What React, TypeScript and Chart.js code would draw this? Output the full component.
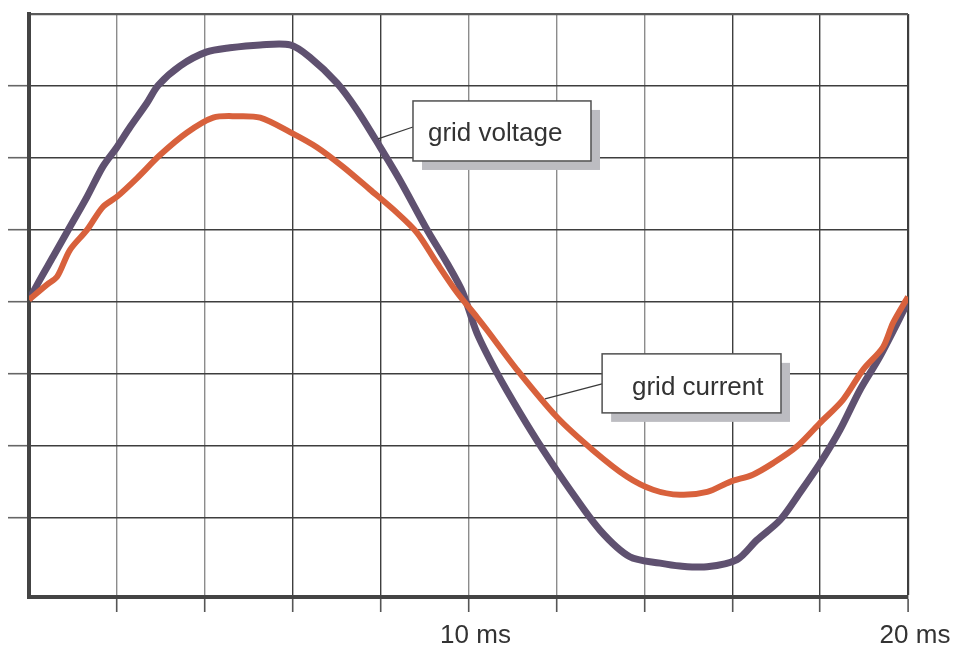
import React, { useEffect, useRef } from 'react';
import { Chart, registerables } from 'chart.js';

Chart.register(...registerables);

// time in ms, values in grid divisions
const voltageTime = [0, 0.25, 0.55, 0.93, 1.32, 1.68, 2.0, 2.3, 2.68, 2.94, 3.44, 4.03, 4.57, 5.26, 5.94, 6.39, 7.01, 7.46, 7.99, 8.44, 9.06, 9.51, 9.87, 10.19, 10.65, 11.17, 11.7, 12.31, 12.99, 13.67, 14.36, 14.81, 15.43, 16.11, 16.56, 17.09, 17.54, 18.0, 18.45, 18.91, 19.36, 20.0];
const voltageValues = [0.03, 0.31, 0.63, 1.04, 1.46, 1.88, 2.15, 2.43, 2.76, 3.01, 3.28, 3.47, 3.53, 3.57, 3.57, 3.4, 3.04, 2.67, 2.15, 1.69, 1.0, 0.54, 0.13, -0.43, -0.99, -1.54, -2.06, -2.61, -3.17, -3.54, -3.63, -3.67, -3.68, -3.58, -3.31, -3.03, -2.65, -2.24, -1.78, -1.22, -0.76, 0.0];

const currentTime = [0, 0.41, 0.64, 0.93, 1.32, 1.68, 2.0, 2.46, 2.98, 3.59, 4.19, 4.73, 5.26, 5.94, 6.55, 7.14, 7.76, 8.37, 8.83, 9.28, 9.74, 10.19, 10.42, 11.1, 12.01, 12.83, 13.61, 14.2, 14.81, 15.43, 15.95, 16.47, 16.93, 17.47, 18.0, 18.52, 18.98, 19.43, 19.66, 20.0];
const currentValues = [0.03, 0.24, 0.35, 0.72, 1.0, 1.32, 1.46, 1.72, 2.04, 2.35, 2.56, 2.58, 2.56, 2.36, 2.15, 1.88, 1.56, 1.24, 0.96, 0.54, 0.13, -0.21, -0.39, -0.94, -1.6, -2.06, -2.43, -2.61, -2.68, -2.64, -2.5, -2.4, -2.24, -2.01, -1.68, -1.36, -0.94, -0.63, -0.29, 0.07];

const xTickValues = [0, 2, 4, 6, 8, 10, 12, 14, 16, 18, 20];
const xTickLabels: Record<number, string> = { 10: '10 ms', 20: '20 ms' };
const lightGridValues = [2, 4, 10, 12, 14];
const yTickValues = [-3, -2, -1, 0, 1, 2, 3, 4];

const calloutTexts = ['grid voltage', 'grid current'];
// [time, value] anchors in data space
const calloutAnchors = [[7.94, 2.264], [11.74, -1.347]];
const calloutLineStarts = [[8.737, 2.43], [13.04, -1.139]];
const calloutBoxes = [[8.737, 2.792, 12.787, 1.958], [13.04, -0.722, 17.11, -1.542]];
const calloutTextAt = [[9.078, 2.236], [13.72, -1.292]];

const FONT = '"Liberation Sans", Arial, Helvetica, sans-serif';

const calloutPlugin = {
  id: 'callouts',
  afterDatasetsDraw(chart: any) {
    const { ctx } = chart;
    const xs = chart.scales.x;
    const ys = chart.scales.y;
    ctx.save();
    calloutTexts.forEach((text, i) => {
      const b = calloutBoxes[i];
      const l = xs.getPixelForValue(b[0]);
      const t = ys.getPixelForValue(b[1]);
      const r = xs.getPixelForValue(b[2]);
      const bt = ys.getPixelForValue(b[3]);
      ctx.fillStyle = '#bcbcc1';
      ctx.fillRect(l + 9, t + 9, r - l, bt - t);
      ctx.strokeStyle = '#3a3a3a';
      ctx.lineWidth = 1.3;
      ctx.beginPath();
      ctx.moveTo(xs.getPixelForValue(calloutLineStarts[i][0]), ys.getPixelForValue(calloutLineStarts[i][1]));
      ctx.lineTo(xs.getPixelForValue(calloutAnchors[i][0]), ys.getPixelForValue(calloutAnchors[i][1]));
      ctx.stroke();
      ctx.fillStyle = '#ffffff';
      ctx.fillRect(l, t, r - l, bt - t);
      ctx.strokeStyle = '#505050';
      ctx.lineWidth = 1.5;
      ctx.strokeRect(l, t, r - l, bt - t);
      ctx.fillStyle = '#333333';
      ctx.font = `26px ${FONT}`;
      ctx.textAlign = 'left';
      ctx.textBaseline = 'alphabetic';
      ctx.fillText(text, xs.getPixelForValue(calloutTextAt[i][0]), ys.getPixelForValue(calloutTextAt[i][1]));
    });
    ctx.restore();
  },
};

export default function App() {
  const canvasRef = useRef<HTMLCanvasElement | null>(null);

  useEffect(() => {
    document.body.style.margin = '0';
    const canvas = canvasRef.current;
    if (!canvas) return;
    const chart = new Chart(canvas, {
      type: 'line',
      data: {
        datasets: [
          {
            label: 'grid current',
            data: currentTime.map((t, i) => ({ x: t, y: currentValues[i] })),
            borderColor: '#d8613c',
            borderWidth: 6,
            pointRadius: 0,
            tension: 0.3,
            fill: false,
            order: 1,
          },
          {
            label: 'grid voltage',
            data: voltageTime.map((t, i) => ({ x: t, y: voltageValues[i] })),
            borderColor: '#5f5170',
            borderWidth: 7,
            pointRadius: 0,
            tension: 0.3,
            fill: false,
            order: 2,
          },
        ],
      },
      options: {
        animation: false,
        responsive: false,
        layout: { padding: { top: 14, right: 47, left: 0, bottom: 0 } },
        plugins: {
          legend: { display: false },
          tooltip: { enabled: false },
        },
        scales: {
          x: {
            type: 'linear',
            min: 0,
            max: 20,
            afterBuildTicks: (scale: any) => {
              scale.ticks = xTickValues.map((v) => ({ value: v }));
            },
            afterFit: (scale: any) => {
              scale.height = 51;
            },
            ticks: {
              autoSkip: false,
              maxRotation: 0,
              padding: 8,
              labelOffset: 7,
              color: '#333333',
              font: { family: FONT, size: 26 },
              callback: (v: any) => xTickLabels[Number(v)] || '',
            },
            grid: {
              drawTicks: true,
              tickLength: 15,
              color: (c: any) =>
                c.tick && c.tick.value === 0
                  ? 'rgba(0,0,0,0)'
                  : lightGridValues.includes(c.tick?.value)
                  ? '#8c8c8c'
                  : '#3e3e3e',
              lineWidth: (c: any) => (c.tick && c.tick.value === 20 ? 2.2 : 1.4),
              tickColor: (c: any) => (c.tick && c.tick.value === 0 ? 'rgba(0,0,0,0)' : '#555555'),
              tickWidth: 1.6,
            },
            border: { display: true, color: '#444444', width: 4 },
          },
          y: {
            type: 'linear',
            min: -4.1,
            max: 4,
            afterBuildTicks: (scale: any) => {
              scale.ticks = yTickValues.map((v) => ({ value: v }));
            },
            afterFit: (scale: any) => {
              scale.width = 29;
            },
            ticks: { display: false },
            grid: {
              drawTicks: true,
              tickLength: 21,
              color: (c: any) => (c.tick && c.tick.value === 4 ? '#5a5a5a' : '#3e3e3e'),
              lineWidth: (c: any) => (c.tick && c.tick.value === 4 ? 2.2 : 1.4),
              tickColor: (c: any) => (c.tick && c.tick.value === 4 ? 'rgba(0,0,0,0)' : '#666666'),
              tickWidth: 1.6,
            },
            border: { display: true, color: '#444444', width: 4 },
          },
        },
      },
      plugins: [calloutPlugin],
    });
    return () => chart.destroy();
  }, []);

  return (
    <div style={{ position: 'absolute', left: 0, top: 0, width: 955, height: 648, background: '#fff' }}>
      <canvas ref={canvasRef} width={955} height={648} style={{ width: 955, height: 648 }} />
    </div>
  );
}
